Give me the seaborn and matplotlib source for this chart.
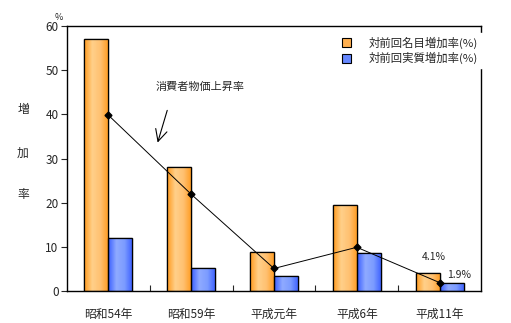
import matplotlib
matplotlib.use("Agg")
import matplotlib.pyplot as plt
import seaborn as sns
import pandas as pd
import numpy as np
from matplotlib.colors import LinearSegmentedColormap

categories = ["昭和54年", "昭和59年", "平成元年", "平成6年", "平成11年"]
nominal = [57.0, 28.0, 8.8, 19.5, 4.1]
real = [12.1, 5.1, 3.3, 8.5, 1.9]
cpi = [39.8, 21.9, 5.1, 9.9, 1.9]
series_names = ["対前回名目増加率(%)", "対前回実質増加率(%)"]

sns.set_theme(style="white")
plt.rcParams['font.family'] = ['Noto Sans CJK JP', 'DejaVu Sans']

df = pd.DataFrame({
    "cat": categories * 2,
    "val": nominal + real,
    "series": [series_names[0]] * 5 + [series_names[1]] * 5,
})

fig = plt.figure(figsize=(5.11, 3.23), dpi=100)
ax = fig.add_axes([67/511, 1-291/323, (481-67)/511, (291-26)/323])

pal = {series_names[0]: "#FFB050", series_names[1]: "#6688FF"}
sns.barplot(data=df, x="cat", y="val", hue="series", palette=pal, ax=ax,
            width=0.58, edgecolor="black", linewidth=0.9, saturation=1,
            legend=True)

# gradient fill
cmap_o = LinearSegmentedColormap.from_list("o", ["#FF9A1E", "#FFD08A", "#FFC070", "#FF9A1E"])
cmap_b = LinearSegmentedColormap.from_list("b", ["#3A5EFF", "#8FAAFF", "#7C9CFF", "#3A5EFF"])
grad = np.linspace(0, 1, 64).reshape(1, -1)
for i, p in enumerate(ax.patches[:10]):
    x0, y0 = p.get_x(), p.get_y()
    w, h = p.get_width(), p.get_height()
    if h <= 0:
        continue
    cm = cmap_o if i < 5 else cmap_b
    im = ax.imshow(grad, cmap=cm, aspect="auto", extent=[x0, x0 + w, y0, y0 + h],
                   zorder=p.get_zorder() + 0.1, interpolation="bilinear")
    im.set_clip_path(p)
    ax.add_patch(plt.Rectangle((x0, y0), w, h, fill=False, edgecolor="black",
                               linewidth=0.9, zorder=p.get_zorder() + 0.2))
ax.set_xlim(-0.5, 4.5)
ax.set_ylim(0, 60)

# CPI line
ax.plot(range(5), cpi, color="black", linewidth=0.7, marker="D", markersize=3.5, zorder=5)

ax.set_xlabel("")
ax.set_ylabel("")
ax.set_yticks([0, 10, 20, 30, 40, 50, 60])
ax.tick_params(axis="y", direction="out", length=4, width=0.8, labelsize=8.5, left=True, pad=2)
ax.set_xticks(range(5))
ax.set_xticklabels(categories, fontsize=8.5)
ax.tick_params(axis="x", bottom=False, labelsize=8.5, pad=6)
ax.set_xticks([0.5, 1.5, 2.5, 3.5], minor=True)
ax.tick_params(axis="x", which="minor", direction="in", length=4, width=0.8, bottom=True)
for s in ax.spines.values():
    s.set_color("black")
    s.set_linewidth(1.0)

# y label characters
for ch, yy in zip(["増", "加", "率"], [110, 153, 194]):
    fig.text(23/511, 1-yy/323, ch, fontsize=8.5, ha="center", va="center")
fig.text(58.5/511, 1-18/323, "%", fontsize=6.5, ha="center", va="center")

# annotations
ax.text(3.93, 7.7, "4.1%", fontsize=7.5, ha="center", va="center")
ax.text(4.23, 3.6, "1.9%", fontsize=7.5, ha="center", va="center")
ax.annotate("", xy=(0.585, 33.0), xytext=(0.72, 41.5),
            arrowprops=dict(arrowstyle="->,head_length=0.7,head_width=0.35", color="black", lw=0.8))
ax.text(1.11, 46.2, "消費者物価上昇率", fontsize=8, ha="center", va="center")

leg = ax.legend(loc="upper right", bbox_to_anchor=(1.015, 0.995), frameon=True, fontsize=8.2,
                handlelength=0.8, handleheight=0.8, handletextpad=1.6, borderpad=0.3,
                labelspacing=0.3)
leg.get_frame().set_edgecolor("white")
leg.get_frame().set_facecolor("white")
leg.get_frame().set_alpha(1)
leg.get_frame().set_boxstyle("square", pad=0)
for h in leg.legend_handles:
    h.set_edgecolor("black")
    h.set_linewidth(0.8)
leg.set_zorder(10)

fig.savefig("out.png", dpi=100)
